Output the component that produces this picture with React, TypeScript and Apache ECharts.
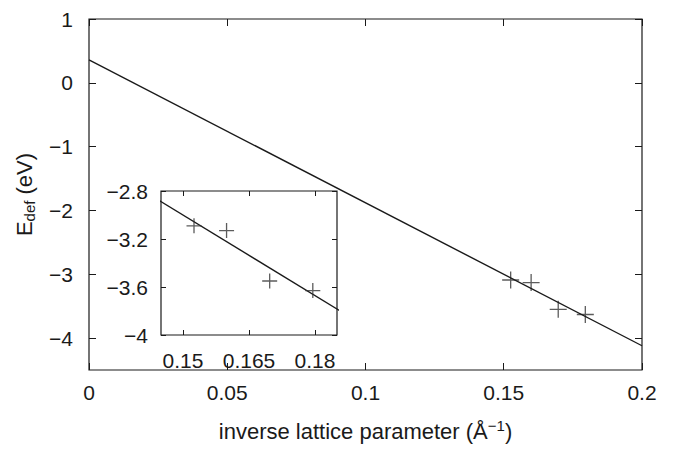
import React, { useEffect, useRef } from "react";
import * as echarts from "echarts";

// data points (inverse lattice parameter, defect energy)
const invLattice = [0.1525, 0.1599, 0.1697, 0.1795];
const defectEnergy = [-3.09, -3.13, -3.55, -3.63];
// linear fit end points
const fitX = [0, 0.2];
const fitY = [0.36, -4.12];
// ticks
const mainXTicks = [0, 0.05, 0.1, 0.15, 0.2];
const mainYTicks = [-4, -3, -2, -1, 0, 1];
const insetXTicks = [0.15, 0.165, 0.18];
const insetYTicks = [-4, -3.6, -3.2, -2.8];

const FONT = "Liberation Sans, Arial, Helvetica, sans-serif";
const INK = "#1a1a1a";
const fmt = (v: number) => (v < 0 ? "\u2212" + String(Math.abs(v)) : String(v));
const plus = "path://M0,5L10,5M5,0L5,10";

export default function App() {
  const ref = useRef<HTMLDivElement>(null);
  useEffect(() => {
    if (!ref.current) return;
    const chart = echarts.init(ref.current, undefined, { renderer: "svg", width: 676, height: 449 });
    const points = invLattice.map((x, i) => [x, defectEnergy[i]]);
    const line = fitX.map((x, i) => [x, fitY[i]]);

    const tickAxis = (extra: any, ticks: number[], len: number) => ({
      type: "value",
      axisLine: { show: false, onZero: false },
      splitLine: { show: false },
      axisTick: { show: true, inside: true, length: len, customValues: ticks, lineStyle: { color: INK, width: 1 } },
      ...extra,
    });

    chart.setOption({
      animation: false,
      backgroundColor: "#fff",
      grid: [
        { left: 89, right: 34, top: 19, bottom: 74, show: true, borderColor: INK, borderWidth: 1.2, backgroundColor: "transparent" },
        { left: 161, top: 191, width: 176, height: 144, show: true, borderColor: INK, borderWidth: 1.2, backgroundColor: "#fff", z: 10 },
      ],
      xAxis: [
        tickAxis({
          gridIndex: 0, min: 0, max: 0.2, position: "bottom",
          axisLabel: { customValues: mainXTicks, formatter: fmt, fontFamily: FONT, fontSize: 21, color: INK, margin: 12 },
          name: "inverse lattice parameter (Å{sup|\u22121})",
          nameLocation: "middle", nameGap: 48,
          nameTextStyle: {
            fontFamily: FONT, fontSize: 22, color: INK, lineHeight: 26,
            rich: { sup: { fontFamily: FONT, fontSize: 15, color: INK, verticalAlign: "top", lineHeight: 26 } },
          },
        }, mainXTicks, 7),
        tickAxis({ gridIndex: 0, min: 0, max: 0.2, position: "top", axisLabel: { show: false } }, mainXTicks, 7),
        tickAxis({
          gridIndex: 1, min: 0.145, max: 0.185, position: "bottom", z: 12,
          axisLabel: { customValues: insetXTicks, formatter: fmt, fontFamily: FONT, fontSize: 21, color: INK, margin: 15 },
        }, insetXTicks, 5),
        tickAxis({ gridIndex: 1, min: 0.145, max: 0.185, position: "top", z: 12, axisLabel: { show: false } }, insetXTicks, 5),
      ],
      yAxis: [
        tickAxis({
          gridIndex: 0, min: -4.5, max: 1, position: "left",
          axisLabel: { customValues: mainYTicks, formatter: fmt, fontFamily: FONT, fontSize: 21, color: INK, margin: 16 },
          name: "E{sub|def} (eV)",
          nameLocation: "middle", nameGap: 52, nameRotate: 90,
          nameTextStyle: {
            fontFamily: FONT, fontSize: 22, color: INK, lineHeight: 26,
            rich: { sub: { fontFamily: FONT, fontSize: 15, color: INK, verticalAlign: "bottom", lineHeight: 26 } },
          },
        }, mainYTicks, 7),
        tickAxis({ gridIndex: 0, min: -4.5, max: 1, position: "right", axisLabel: { show: false } }, mainYTicks, 7),
        tickAxis({
          gridIndex: 1, min: -4, max: -2.8, position: "left", z: 12,
          axisLabel: { customValues: insetYTicks, formatter: fmt, fontFamily: FONT, fontSize: 21, color: INK, margin: 13 },
        }, insetYTicks, 5),
        tickAxis({ gridIndex: 1, min: -4, max: -2.8, position: "right", z: 12, axisLabel: { show: false } }, insetYTicks, 5),
      ],
      series: [
        {
          type: "line", xAxisIndex: 0, yAxisIndex: 0, data: line, showSymbol: false, clip: true,
          lineStyle: { color: INK, width: 1.4 }, silent: true,
        },
        {
          type: "scatter", xAxisIndex: 0, yAxisIndex: 0, data: points, symbol: plus, symbolSize: 17,
          itemStyle: { color: "none", borderColor: "#333", borderWidth: 1.3 }, silent: true,
        },
        {
          type: "line", xAxisIndex: 2, yAxisIndex: 2, data: line, showSymbol: false, clip: true, z: 13,
          lineStyle: { color: INK, width: 1.4 }, silent: true,
        },
        {
          type: "scatter", xAxisIndex: 2, yAxisIndex: 2, data: points, symbol: plus, symbolSize: 15, z: 13,
          itemStyle: { color: "none", borderColor: "#333", borderWidth: 1.3 }, silent: true,
        },
      ],
    });
    return () => chart.dispose();
  }, []);
  return <div ref={ref} style={{ position: "fixed", left: 0, top: 0, width: 676, height: 449 }} />;
}
